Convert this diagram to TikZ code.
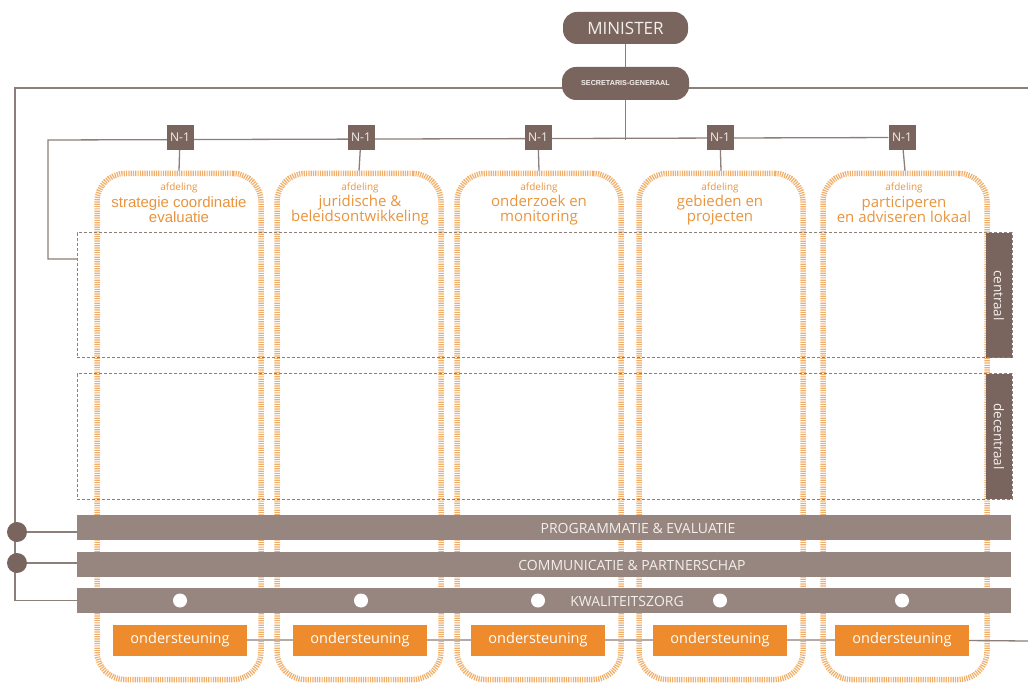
\documentclass[tikz,border=0pt]{standalone}
\usepackage{fontspec}
\setmainfont{Open Sans}
\newfontfamily\arialf{Liberation Sans}
\usetikzlibrary{backgrounds}
\definecolor{dbrown}{HTML}{7A655E}
\definecolor{bbrown}{HTML}{978680}
\definecolor{lgrey}{HTML}{8C7E78}
\definecolor{ofill}{HTML}{EE8B2C}
\definecolor{otext}{HTML}{E9943D}
\definecolor{odash}{HTML}{F1AE68}
\definecolor{ltxt}{HTML}{F4EFEC}
\tikzset{
  topbox/.style={fill=dbrown, rounded corners=14pt, inner sep=0pt},
  nbox/.style={fill=dbrown, minimum width=27pt, minimum height=25pt, inner sep=0pt, text=ltxt, font=\fontsize{12}{14}\selectfont},
  deptbox/.style={draw=odash, line width=5.5pt, dash pattern=on 1.2pt off 1.1pt, rounded corners=28pt, minimum width=164pt, minimum height=506pt, inner sep=0pt},
  zone/.style={draw=lgrey, line width=1pt, dash pattern=on 3pt off 2pt, minimum width=935pt, minimum height=125pt, inner sep=0pt},
  tab/.style={fill=dbrown, minimum width=26pt, minimum height=125pt, inner sep=0pt},
  tabtxt/.style={text=ltxt, rotate=-90, font=\fontsize{13.5}{15}\selectfont},
  bar/.style={fill=bbrown, minimum width=934pt, minimum height=25pt, inner sep=0pt},
  bartxt/.style={text=ltxt, font=\fontsize{14}{16}\selectfont},
  dot/.style={circle, fill=dbrown, minimum size=20pt, inner sep=0pt},
  wdot/.style={circle, fill=white, minimum size=14pt, inner sep=0pt},
  obox/.style={fill=ofill, minimum width=134pt, minimum height=31pt, inner sep=0pt, text=white, font=\fontsize{14.5}{16}\selectfont},
  afd/.style={text=otext, font=\fontsize{10}{11}\selectfont},
  dtitle/.style={text=otext, align=center, font=\fontsize{15}{15}\selectfont},
  conn/.style={draw=lgrey, line width=1.3pt},
}
\begin{document}
\begin{tikzpicture}[x=1pt,y=-1pt]
\useasboundingbox (0,0) rectangle (1028,684);

% departments
\foreach \i/\cx in {1/179,2/359,3/539,4/721,5/905}{
  \node[deptbox] (d\i) at (\cx,426.5) {};
}
% zones
\node[tab] (tc) at (999,295.5) {};
\node[tab] (td) at (999,436.5) {};
\node[zone] (zc) at (544.5,295.5) {};
\node[zone] (zd) at (544.5,436.5) {};
\node[tabtxt] (tct) at (999,295.5) {centraal};
\node[tabtxt] (tdt) at (999,436.5) {decentraal};

% top
\node[topbox, minimum width=125pt, minimum height=32pt, text=ltxt, font=\fontsize{17}{19}\selectfont] (min) at (625.5,28) {MINISTER};
\node[topbox, minimum width=127pt, minimum height=33pt, text=ltxt, font=\arialf\bfseries\fontsize{7.2}{8}\selectfont] (sg) at (625.5,83.5) {SECRETARIS-GENERAAL};

% N-1
\foreach \i/\cx in {1/180,2/361,3/538,4/720,5/902}{
  \node[nbox] (n\i) at (\cx,137.5) {N-1};
}

% bars
\node[bar] (b1) at (544,527.5) {};
\node[bar] (b2) at (544,564.5) {};
\node[bar] (b3) at (544,600.5) {};
\node[bartxt] (b1t) at (638,528) {PROGRAMMATIE \& EVALUATIE};
\node[bartxt] (b2t) at (632,565) {COMMUNICATIE \& PARTNERSCHAP};
\node[bartxt] (b3t) at (627,601) {KWALITEITSZORG};
\foreach \i/\cx in {1/180,2/361,3/538,4/720,5/902}{
  \node[wdot] (w\i) at (\cx,600.5) {};
}

\node[dot] (c1) at (17,532) {};
\node[dot] (c2) at (17,563) {};

% ondersteuning
\foreach \i/\cx in {1/180,2/360,3/538,4/720,5/902}{
  \node[obox] (o\i) at (\cx,640) {ondersteuning};
}

% titles
\foreach \i/\cx in {1/179,2/360,3/539,4/720,5/904}{
  \node[afd] (a\i) at (\cx,188) {afdeling};
}
\node[dtitle, font=\arialf\fontsize{15}{15}\selectfont] (t1) at (179,210) {strategie coordinatie\\evaluatie};
\node[dtitle] (t2) at (360,210) {juridische \&\\beleidsontwikkeling};
\node[dtitle] (t3) at (539,210) {onderzoek en\\monitoring};
\node[dtitle] (t4) at (720,210) {gebieden en\\projecten};
\node[dtitle] (t5) at (904,210) {participeren\\en adviseren lokaal};

% connector coordinates
\coordinate (tr) at (1028,88);
\coordinate (tl) at (15,88);
\coordinate (bl) at (15,600.5);
\coordinate (sgd) at (625.5,140);
\coordinate (l1) at (48,140);
\coordinate (l2) at (48,259);
\coordinate (l3) at (77,259);
\coordinate (k1) at (77,532);
\coordinate (k2) at (77,563);
\coordinate (oe) at (1028,641);

\begin{scope}[on background layer]
  \draw[conn] (min) -- (sg);
  \draw[conn] (tr) -- (tl) -- (bl) -- (b3.west);
  \draw[conn] (sg) -- (sgd);
  \draw[conn] (n5) -- (l1) -- (l2) -- (l3);
  \foreach \i in {1,...,5}{ \draw[conn] (n\i) -- (d\i.north); }
  \draw[conn] (c1) -- (k1);
  \draw[conn] (c2) -- (k2);
  \draw[conn] (o1) -- (o2) -- (o3) -- (o4) -- (o5) -- (oe);
\end{scope}
\end{tikzpicture}
\end{document}
